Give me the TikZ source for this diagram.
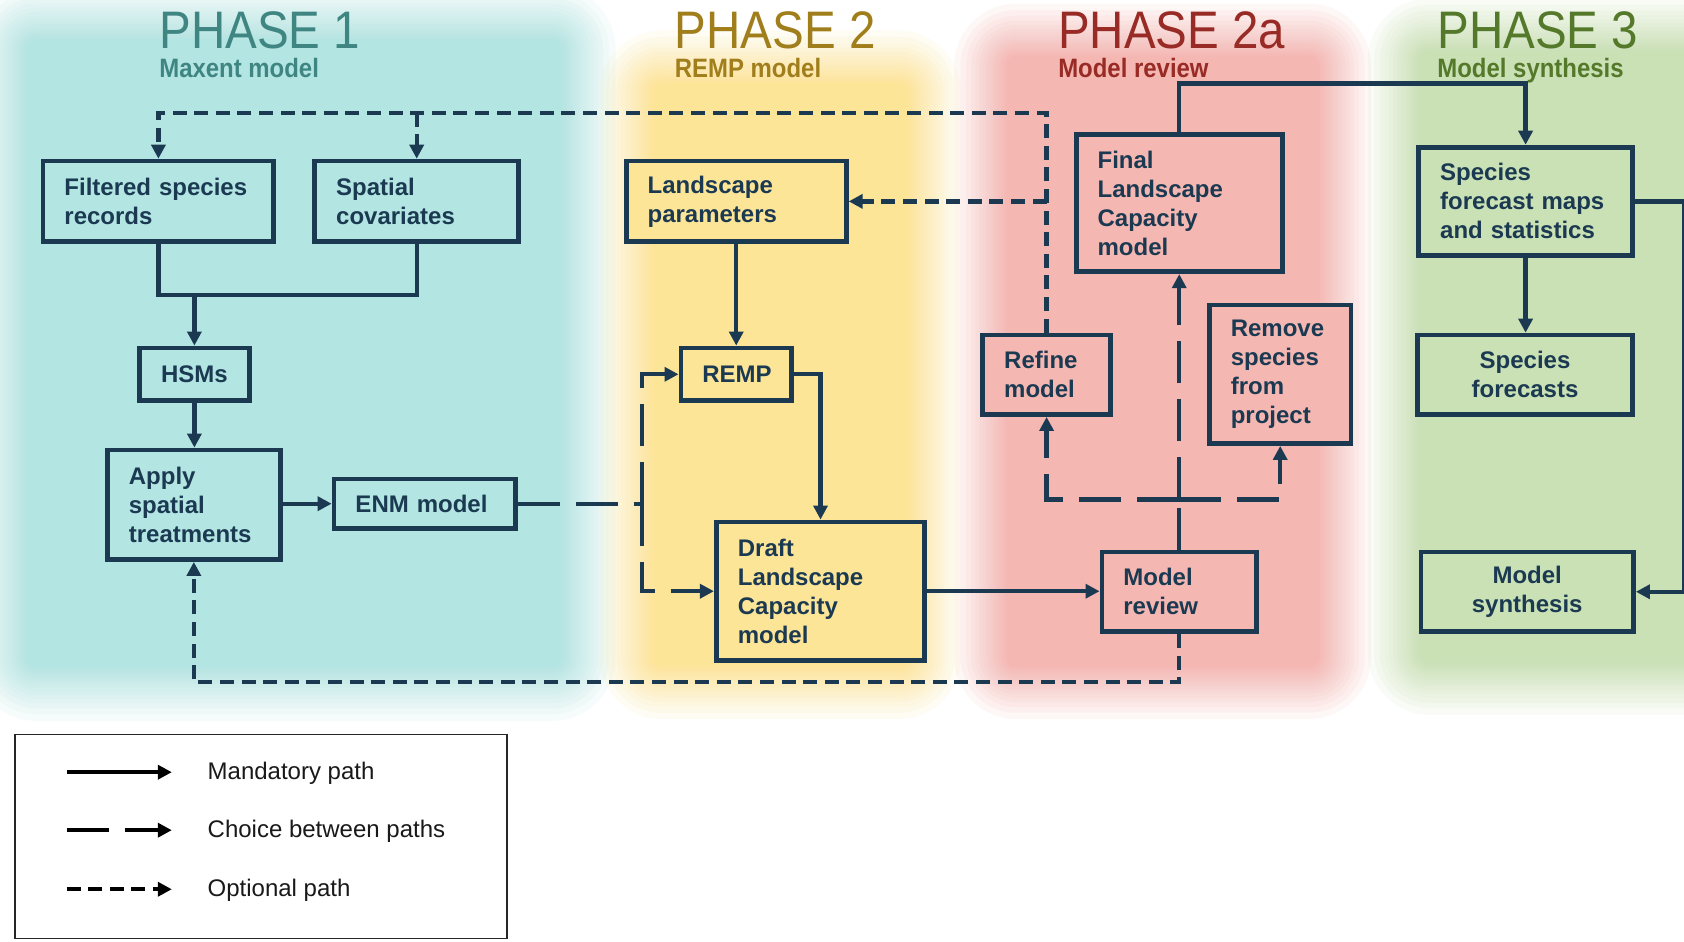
\documentclass[tikz,border=0pt]{standalone}
\usepackage{fontspec}
\setmainfont{Liberation Sans}
\newfontfamily\headfont[FakeStretch=0.9]{Liberation Sans}
\usetikzlibrary{arrows.meta}
\definecolor{navy}{HTML}{1B3A52}
\definecolor{bteal}{HTML}{B3E5E3}
\definecolor{byellow}{HTML}{FDE598}
\definecolor{bpink}{HTML}{F5B7B2}
\definecolor{bgreen}{HTML}{CAE1B5}
\definecolor{hteal}{HTML}{3F8582}
\definecolor{hgold}{HTML}{A17E1C}
\definecolor{hred}{HTML}{982B25}
\definecolor{hgreen}{HTML}{55792A}

\newcommand\flowboxnode[8]{%
  \pgfmathsetmacro\bw{(#4-#2)*0.537}%
  \pgfmathsetmacro\bh{(#5-#3)*0.537}%
  \pgfmathsetmacro\tw{(#4-#2-40)*0.537}%
  \node[flowbox, fill=#6, minimum width=\bw pt, minimum height=\bh pt, text width=\tw pt, align=#7] (#1) at ({(#2+#4)/2},{(#3+#5)/2}) {#8};}

% soft band: layers spaced so that accumulated opacity ramps linearly
\newcommand\phaseband[6]{%
  \foreach \i in {1,...,30}{%
    \pgfmathsetmacro\dd{#6*(1-(1-0.89^\i)/(1-0.89^30))+2}%
    \pgfmathsetmacro\rc{(\dd+4)*0.537}%
    \fill[#1, fill opacity=0.11, rounded corners=\rc pt] ({#2-\dd},{#3-\dd}) rectangle ({#4+\dd},{#5+\dd});
  }}

\begin{document}
\begin{tikzpicture}[x=0.537pt, y=-0.537pt,
  flowbox/.style={draw=navy, line width=2.4pt, inner xsep=0pt, inner ysep=2pt, text=navy, font=\fontsize{12}{14.5}\selectfont\bfseries},
  conn/.style={draw=navy, line width=2.15pt},
  mand/.style={conn},
  choice/.style={conn, dash pattern=on 21pt off 8pt},
  opt/.style={conn, dash pattern=on 7pt off 3.8pt},
  arr/.style={-{Triangle[length=7pt,width=7pt]}},
  phtitle/.style={anchor=base west, inner sep=0pt, font=\headfont\fontsize{26.4}{30}\selectfont},
  phsub/.style={anchor=base west, inner sep=0pt, font=\headfont\bfseries\fontsize{13.3}{16}\selectfont},
  legtext/.style={anchor=west, inner sep=0pt, font=\fontsize{12}{14}\selectfont, text=black!90},
]
\useasboundingbox (0,0) rectangle (1568,877);
\begin{scope}
\clip (0,0) rectangle (1568,877);
\fill[white] (0,0) rectangle (1568,877);
\phaseband{bteal}{30}{42}{518}{616}{60}
\phaseband{byellow}{612}{82}{841}{616}{58}
\phaseband{bpink}{942}{57}{1223}{616}{58}
\phaseband{bgreen}{1327}{52}{1680}{612}{58}
\end{scope}

% headers
\node[phtitle, text=hteal] (h1) at (148,45) {PHASE 1};
\node[phsub, text=hteal] (s1) at (148,72) {Maxent model};
\node[phtitle, text=hgold] (h2) at (628,45) {PHASE 2};
\node[phsub, text=hgold] (s2) at (628,72) {REMP model};
\node[phtitle, text=hred] (h3) at (985,45) {PHASE 2a};
\node[phsub, text=hred] (s3) at (985,72) {Model review};
\node[phtitle, text=hgreen] (h4) at (1338,45) {PHASE 3};
\node[phsub, text=hgreen] (s4) at (1338,72) {Model synthesis};

% boxes
\flowboxnode{filt}{40}{150}{255}{225}{bteal}{left}{Filtered species\\records}
\flowboxnode{spat}{293}{150}{483}{225}{bteal}{left}{Spatial\\covariates}
\flowboxnode{hsm}{130}{324}{232}{373}{bteal}{center}{HSMs}
\flowboxnode{apply}{100}{419}{261}{521}{bteal}{left}{Apply\\spatial\\treatments}
\flowboxnode{enm}{311}{446}{480}{492}{bteal}{left}{ENM model}
\flowboxnode{land}{583}{150}{788}{225}{byellow}{left}{Landscape\\parameters}
\flowboxnode{remp}{634}{324}{737}{373}{byellow}{center}{REMP}
\flowboxnode{draft}{667}{486}{861}{615}{byellow}{left}{Draft\\Landscape\\Capacity\\model}
\flowboxnode{refine}{915}{312}{1034}{386}{bpink}{left}{Refine\\model}
\flowboxnode{final}{1002}{125}{1194}{253}{bpink}{left}{Final\\Landscape\\Capacity\\model}
\flowboxnode{remove}{1126}{284}{1258}{413}{bpink}{left}{Remove\\species\\from\\project}
\flowboxnode{review}{1026}{514}{1170}{588}{bpink}{left}{Model\\review}
\flowboxnode{sfm}{1321}{137}{1520}{238}{bgreen}{left}{Species\\forecast maps\\and statistics}
\flowboxnode{sf}{1320}{312}{1520}{386}{bgreen}{center}{Species\\forecasts}
\flowboxnode{ms}{1323}{514}{1521}{588}{bgreen}{center}{Model\\synthesis}

% connectors
\coordinate (ytop) at (0,105);
\draw[opt, arr] (refine.north) -- (refine.north |- ytop) -| (filt.north);
\draw[opt, arr] (spat.north |- ytop) -- (spat.north);
\draw[opt, arr] (refine.north |- land.east) -- (land.east);

\coordinate (ymid) at (0,275);
\draw[mand] (filt.south) -- (filt.south |- ymid) -| (spat.south);
\draw[mand, arr] (hsm.north |- ymid) -- (hsm.north);
\draw[mand, arr] (hsm.south) -- (hsm.south |- apply.north);
\draw[mand, arr] (apply.east |- enm.west) -- (enm.west);

\coordinate (cx) at (598,469);
\draw[choice] (enm.east) -- (cx);
\draw[choice, arr] (cx) |- (remp.west);
\draw[choice, arr] (cx) |- (draft.west);

\draw[mand, arr] (land.south) -- (remp.north);
\draw[mand, arr] (remp.east) -| (draft.north);
\draw[mand, arr] (draft.east) -- (draft.east -| review.west);

\coordinate (jr) at (1098,465);
\draw[choice] (review.north) -- (jr);
\draw[choice, arr] (jr) -- (final.south);
\draw[choice, arr] (jr) -| (refine.south);
\draw[choice, arr] (jr) -| (remove.south);

\draw[opt, arr] (review.south) -- ++(0,45) -| (apply.south);
\draw[mand, arr] (final.north) -- ++(0,-45) -| (sfm.north);
\draw[mand, arr] (sfm.south) -- (sfm.south |- sf.north);
\draw[mand, arr] (sfm.east) -- ++(46,0) |- (ms.east);

% legend
\node[draw=black!85, line width=0.8pt, minimum width={458*0.537pt}, minimum height={190*0.537pt}, inner sep=0pt] (legend) at (243,779) {};
\coordinate (la1) at (62,719); \coordinate (la2) at (160,719);
\coordinate (lb1) at (62,773); \coordinate (lb2) at (160,773);
\coordinate (lc1) at (62,828); \coordinate (lc2) at (160,828);
\draw[mand, draw=black, arr] (la1) -- (la2);
\draw[choice, draw=black, arr] (lb1) -- (lb2);
\draw[opt, draw=black, arr] (lc1) -- (lc2);
\node[legtext] (lta) at (193,720) {Mandatory path};
\node[legtext] (ltb) at (193,774) {Choice between paths};
\node[legtext] (ltc) at (193,829) {Optional path};
\end{tikzpicture}
\end{document}
